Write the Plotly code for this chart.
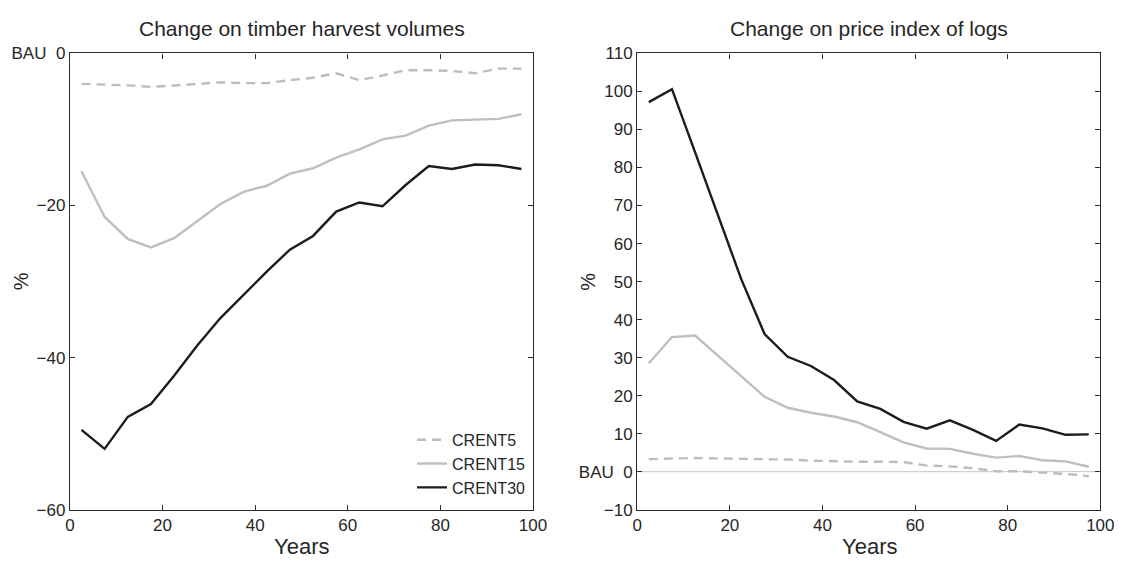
import plotly.graph_objects as go

W, H = 1134, 568
years = [2.5, 7.5, 12.5, 17.5, 22.5, 27.5, 32.5, 37.5, 42.5, 47.5,
         52.5, 57.5, 62.5, 67.5, 72.5, 77.5, 82.5, 87.5, 92.5, 97.5]

# Left panel: change on timber harvest volumes (%)
harv_crent5 = [-4.0, -4.1, -4.2, -4.4, -4.2, -4.0, -3.8, -3.9, -3.9, -3.5,
               -3.2, -2.6, -3.5, -2.9, -2.2, -2.2, -2.3, -2.6, -2.0, -2.0]
harv_crent15 = [-15.5, -21.5, -24.4, -25.5, -24.3, -22.0, -19.8, -18.2, -17.4, -15.8,
                -15.1, -13.7, -12.6, -11.3, -10.8, -9.5, -8.8, -8.7, -8.6, -8.0]
harv_crent30 = [-49.5, -52.0, -47.8, -46.1, -42.4, -38.4, -34.8, -31.7, -28.7, -25.8,
                -24.0, -20.8, -19.6, -20.1, -17.3, -14.8, -15.2, -14.6, -14.7, -15.2]

# Right panel: change on price index of logs (%)
price_crent5 = [3.3, 3.4, 3.6, 3.5, 3.4, 3.3, 3.2, 2.9, 2.7, 2.6,
                2.6, 2.5, 1.6, 1.4, 0.9, 0.1, 0.1, -0.2, -0.6, -1.2]
price_crent15 = [28.5, 35.4, 35.8, 30.5, 25.0, 19.7, 16.8, 15.5, 14.5, 13.0,
                 10.4, 7.7, 6.1, 6.0, 4.7, 3.7, 4.1, 3.0, 2.7, 1.3]
price_crent30 = [97.2, 100.6, 84.0, 67.3, 50.5, 36.2, 30.2, 27.8, 24.1, 18.5,
                 16.5, 13.1, 11.3, 13.5, 11.0, 8.1, 12.4, 11.4, 9.7, 9.8]

series_names = ["CRENT5", "CRENT15", "CRENT30"]
left_ticks = [0, -20, -40, -60]
left_ticktext = ["BAU  0", "\u221220", "\u221240", "\u221260"]
right_ticks = list(range(-10, 111, 10))
right_ticktext = ["\u221210", "BAU  0"] + [str(v) for v in range(10, 111, 10)]
x_ticks = [0, 20, 40, 60, 80, 100]

FONT = "Liberation Sans, Arial, Helvetica, sans-serif"
TXT = "#262626"
AX = "#2a2a2a"
styles = [
    dict(color="#bdbdbd", width=2.4, dash="9px,6px"),
    dict(color="#bfbfbf", width=2.4),
    dict(color="#1c1c1c", width=2.4),
]

fig = go.Figure()
for name, ys, st in zip(series_names, [harv_crent5, harv_crent15, harv_crent30], styles):
    fig.add_trace(go.Scatter(x=years, y=ys, mode="lines", name=name, line=st,
                             xaxis="x", yaxis="y", showlegend=True))
for name, ys, st in zip(series_names, [price_crent5, price_crent15, price_crent30], styles):
    fig.add_trace(go.Scatter(x=years, y=ys, mode="lines", name=name, line=st,
                             xaxis="x2", yaxis="y2", showlegend=False))

def px2x(p):
    return p / W

def px2y(p):
    return 1 - p / H

ydom = [px2y(518), px2y(46)]
axis_common = dict(showline=True, linecolor=AX, linewidth=1.3, mirror="ticks",
                   ticks="inside", ticklen=5, tickcolor=AX, tickwidth=1,
                   showgrid=False, zeroline=False,
                   tickfont=dict(family=FONT, size=17, color=TXT))

fig.update_layout(
    width=W, height=H,
    margin=dict(l=0, r=0, t=0, b=0),
    paper_bgcolor="white", plot_bgcolor="white",
    xaxis=dict(domain=[px2x(66), px2x(537)], range=[0, 100], tickvals=x_ticks,
               anchor="y", **axis_common),
    yaxis=dict(domain=ydom, range=[-60, 0], tickvals=left_ticks, ticktext=left_ticktext,
               anchor="x", **axis_common),
    xaxis2=dict(domain=[px2x(643), px2x(1114)], range=[0, 100], tickvals=x_ticks,
                anchor="y2", **axis_common),
    yaxis2=dict(domain=ydom, range=[-10, 110], tickvals=right_ticks, ticktext=right_ticktext,
                anchor="x2", **axis_common),
    legend=dict(x=px2x(535), y=px2y(513), xanchor="right", yanchor="bottom",
                bgcolor="rgba(0,0,0,0)", borderwidth=0, tracegroupgap=0,
                font=dict(family=FONT, size=16, color=TXT)),
    showlegend=True,
)

fig.add_shape(type="line", xref="x2", yref="y2", x0=0, x1=100, y0=0, y1=0,
              line=dict(color="#c8c8c8", width=1), layer="below")

ann = [
    dict(text="Change on timber harvest volumes", x=px2x(302), y=px2y(20), size=21),
    dict(text="Change on price index of logs", x=px2x(879), y=px2y(20), size=21),
    dict(text="Years", x=px2x(302), y=px2y(556), size=22),
    dict(text="Years", x=px2x(879), y=px2y(556), size=22),
]
for a in ann:
    fig.add_annotation(text=a["text"], x=a["x"], y=a["y"], xref="paper", yref="paper",
                       showarrow=False, xanchor="center", yanchor="middle",
                       font=dict(family=FONT, size=a["size"], color=TXT))
for xp in [16, 593]:
    fig.add_annotation(text="%", x=px2x(xp), y=px2y(282), xref="paper", yref="paper",
                       showarrow=False, textangle=-90, xanchor="center", yanchor="middle",
                       font=dict(family=FONT, size=20, color=TXT))

fig.write_html("out.html")
